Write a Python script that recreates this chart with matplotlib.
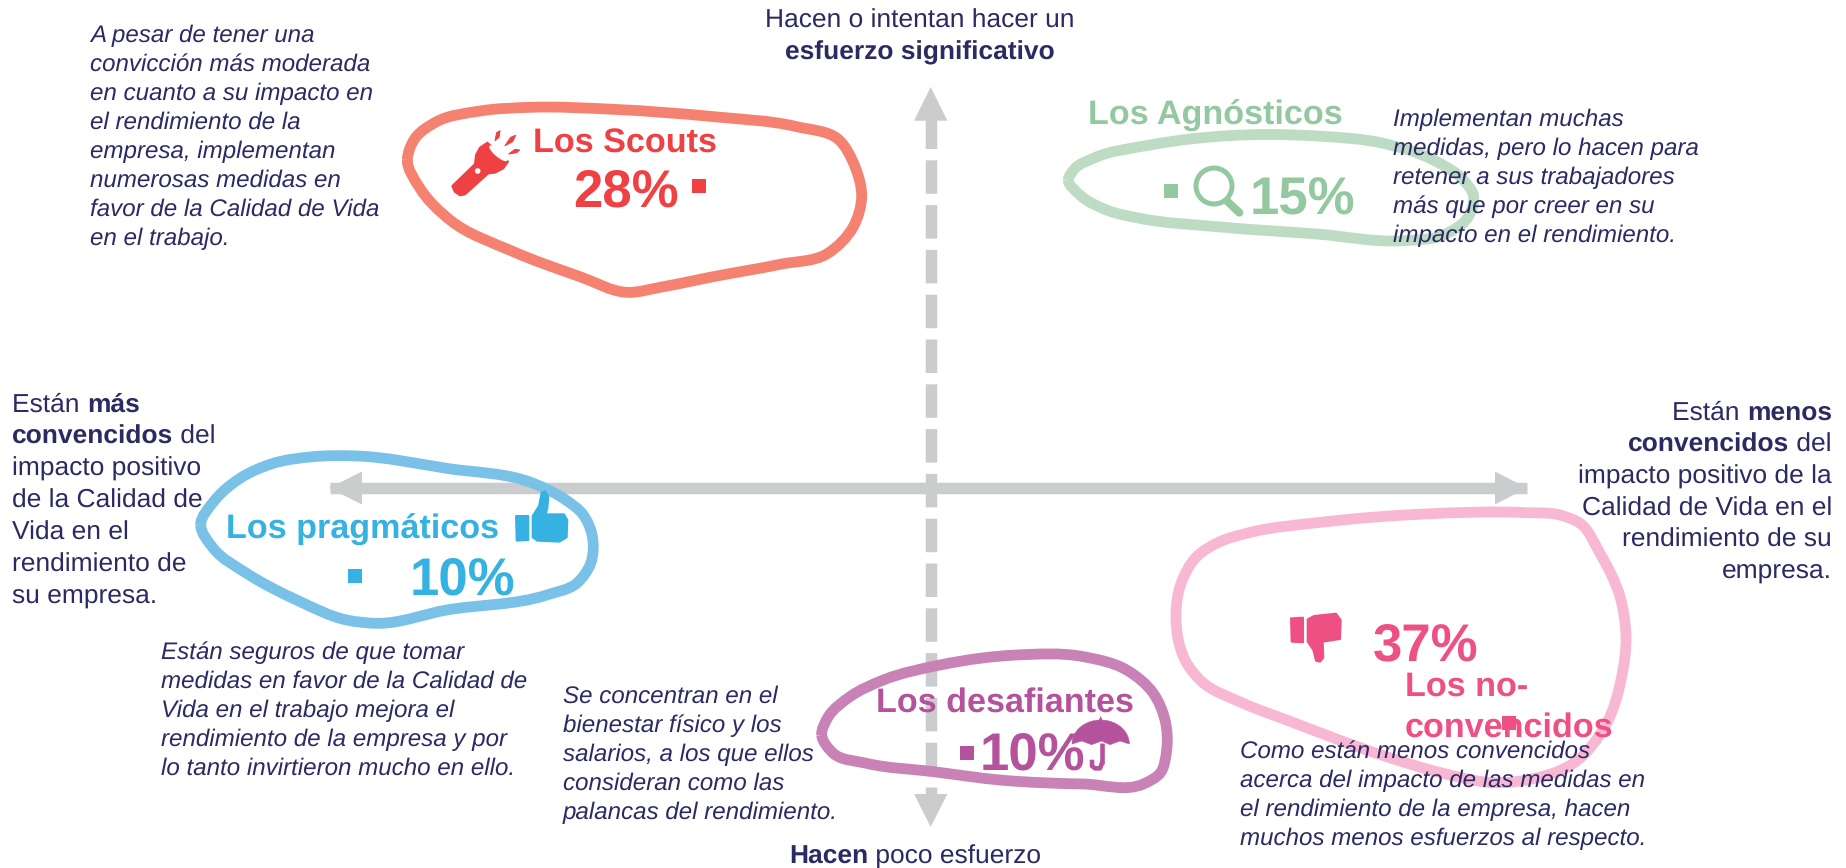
import matplotlib
matplotlib.use("Agg")
import matplotlib.pyplot as plt
from matplotlib.path import Path
from matplotlib.patches import PathPatch, Polygon, Rectangle, Circle, Ellipse
import numpy as np

W, H = 1846, 868
plt.rcParams['font.family'] = ['Liberation Sans', 'DejaVu Sans']
plt.rcParams['lines.scale_dashes'] = False
plt.rcParams['text.hinting'] = 'none'
plt.rcParams['text.hinting_factor'] = 8

NAVY = '#2B2A63'
GREY = '#CBCCCE'
PX = 72 / 100

# ---- data -----
groups = ['Los Scouts', 'Los Agnósticos', 'Los pragmáticos', 'Los desafiantes', 'Los no-\nconvencidos']
shares = [28, 15, 10, 10, 37]
text_colors = ['#EF4044', '#94C8A0', '#35B1E2', '#B5529C', '#EF5084']
ring_colors = ['#F58270', '#BDDCC3', '#7AC1E8', '#C882B5', '#F8B8D3']
title_pos = [(533, 152.7), (1088, 125), (226, 539), (876, 712), (1405, 696)]
share_pos = [(573, 206.7), (1250, 214), (410, 594), (980, 769), (1373, 660)]
square_pos = [(692, 179), (1164, 184), (348, 569), (960, 746), (1502, 716)]

ring_scouts = [(82,240),(105,175),(170,125),(300,93),(450,82),(700,88),(1000,110),(1250,140),(1375,178),(1425,260),(1445,350),(1420,440),(1340,522),(1200,553),(1000,590),(850,620),(740,637),(600,590),(400,515),(210,420),(120,325)]
ring_agnost = [(55,300),(75,265),(130,235),(300,195),(520,168),(800,168),(1000,190),(1150,240),(1240,300),(1270,345),(1255,410),(1180,465),(1060,482),(800,462),(500,440),(270,415),(170,390),(90,345)]
ring_pragma = [(62,225),(105,150),(180,85),(280,40),(400,20),(530,18),(800,55),(1060,100),(1150,145),(1210,195),(1235,250),(1232,340),(1190,400),(1100,435),(800,480),(590,520),(500,510),(350,450),(200,370),(100,295)]
ring_desaf = [(65,225),(85,170),(150,110),(250,60),(420,15),(650,-15),(850,-10),(980,30),(1060,100),(1095,180),(1100,270),(1080,340),(1030,372),(850,372),(600,360),(400,335),(200,310),(100,280)]
ring_nocon = [(48,380),(60,290),(110,200),(180,155),(260,130),(500,95),(795,72),(1100,68),(1200,75),(1260,100),(1320,190),(1380,320),(1398,440),(1385,560),(1340,700),(1240,820),(1100,870),(1000,878),(850,850),(680,800),(380,690),(250,640),(120,570),(75,510),(55,450)]
rings = [ring_scouts, ring_agnost, ring_pragma, ring_desaf, ring_nocon]
ring_origin = [(380,80),(1050,80),(180,450),(800,660),(1160,490)]

body_blocks = [
    (90, 42, ['A pesar de tener una','convicción más moderada','en cuanto a su impacto en','el rendimiento de la','empresa, implementan','numerosas medidas en','favor de la Calidad de Vida','en el trabajo.']),
    (1393, 126, ['Implementan muchas','medidas, pero lo hacen para','retener a sus trabajadores','más que por creer en su','impacto en el rendimiento.']),
    (161, 659, ['Están seguros de que tomar','medidas en favor de la Calidad de','Vida en el trabajo mejora el','rendimiento de la empresa y por','lo tanto invirtieron mucho en ello.']),
    (563, 703, ['Se concentran en el','bienestar físico y los','salarios, a los que ellos','consideran como las','palancas del rendimiento.']),
    (1240, 758, ['Como están menos convencidos','acerca del impacto de las medidas en','el rendimiento de la empresa, hacen','muchos menos esfuerzos al respecto.']),
]
left_lines = [[('Están ',0),('más',1)],[('convencidos',1),(' del',0)],[('impacto positivo',0)],[('de la Calidad de',0)],[('Vida en el',0)],[('rendimiento de',0)],[('su empresa.',0)]]
right_lines = [[('Están ',0),('menos',1)],[('convencidos',1),(' del',0)],[('impacto positivo de la',0)],[('Calidad de Vida en el',0)],[('rendimiento de su',0)],[('empresa.',0)]]
top_lines = [[('Hacen o intentan hacer un',0)],[('esfuerzo significativo',1)]]
bottom_lines = [[('Hacen',1),(' poco esfuerzo',0)]]

# ---- figure -----
fig = plt.figure(figsize=(W/100, H/100), dpi=100)
ax = fig.add_axes([0, 0, 1, 1])
ax.set_xlim(0, W); ax.set_ylim(H, 0); ax.axis('off')
fig.canvas.draw()
rend = fig.canvas.get_renderer()

def smooth(pts):
    p = np.asarray(pts, float)
    n = len(p)
    tang = []
    for i in range(n):
        a, b, c = p[i-1], p[i], p[(i+1) % n]
        d0, d1 = np.linalg.norm(b-a), np.linalg.norm(c-b)
        tang.append(((b-a)/d0*d1 + (c-b)/d1*d0)/(d0+d1))
    verts = [p[0]]; codes = [Path.MOVETO]
    for i in range(n):
        j = (i+1) % n
        d = np.linalg.norm(p[j]-p[i])
        verts += [p[i]+tang[i]*d/3, p[j]-tang[j]*d/3, p[j]]
        codes += [Path.CURVE4]*3
    return Path(verts, codes)

def conv(pts, origin):
    return [(origin[0]+x/3, origin[1]+y/3) for x, y in pts]

# arrows
ax.plot([330, 1527], [488, 488], color=GREY, lw=11.5*PX, solid_capstyle='butt', zorder=1)
for tip, base in ((329, 362), (1527, 1495)):
    ax.add_patch(Polygon([(tip,488),(base,471.5),(base,504.5)], color=GREY, lw=0, zorder=1))
ax.plot([930.7, 930.7], [115.2, 797], color=GREY, lw=11.5*PX, dashes=(33.5*PX, 11.3*PX), dash_capstyle='butt', zorder=1)
for tip, base in ((87, 120.7), (827, 794)):
    ax.add_patch(Polygon([(930.7,tip),(914,base),(947.4,base)], color=GREY, lw=0, zorder=1))

# rings
for pts, org, c in zip(rings, ring_origin, ring_colors):
    ax.add_patch(PathPatch(smooth(conv(pts, org)), fc='none', ec=c, lw=10.8*PX, zorder=2))

# squares, titles, shares
for g, s, tc, tp, sp, q in zip(groups, shares, text_colors, title_pos, share_pos, square_pos):
    lines = g.split('\n')
    for i, l in enumerate(lines):
        ax.text(tp[0], tp[1]+i*40.5, l, color=tc, fontsize=24.6, fontweight='bold', va='baseline', ha='left', zorder=4)
    ax.text(sp[0], sp[1], f'{s}%', color=tc, fontsize=38, fontweight='bold', va='baseline', ha='left', zorder=4)
    ax.add_patch(Rectangle(q, 13.5, 13.5, color=tc, lw=0, zorder=5))

# icons
red, green, blue, purple, pink = text_colors
def fill(pts, org, c, z=5, edge=2.0):
    ax.add_patch(Polygon(conv(pts, org), fc=c, ec=c, lw=edge*PX, joinstyle='round', zorder=z))

o = ring_origin[0]
fill([(217,318),(285,252),(288,225),(300,203),(322,188),(384,245),(370,265),(345,278),(325,280),(255,343),(240,346),(224,335)], o, red)
ax.add_patch(Ellipse((o[0]+355/3, o[1]+220/3), 23, 7, angle=40, fc='white', ec='none', zorder=6))
ax.add_patch(Circle((o[0]+293/3, o[1]+273/3), 2.8, fc='white', ec='none', zorder=6))
for ray in ([(345,182),(350,158),(360,152),(357,172)], [(375,197),(392,172),(407,166),(398,185)], [(386,222),(405,208),(419,210),(410,218)]):
    fill(ray, o, red, edge=1.0)

o = ring_origin[1]
ax.add_patch(Circle((o[0]+492/3, o[1]+318/3), 18, fc='none', ec=green, lw=5*PX, zorder=5))
ax.plot([o[0]+532/3, o[0]+568/3], [o[1]+364/3, o[1]+398/3], color=green, lw=8*PX, solid_capstyle='round', zorder=5)

o = ring_origin[2]
fill([(1008,198),(1045,198),(1045,270),(1010,272)], o, blue)
fill([(1058,198),(1077,168),(1085,128),(1095,124),(1105,140),(1102,175),(1097,193),(1152,193),(1162,210),(1160,262),(1138,275),(1072,272),(1058,262)], o, blue)

o = ring_origin[3]
theta = np.linspace(np.pi, 0, 30)
dome = [(902+86*np.cos(t), 252-72*np.sin(t)) for t in theta]
dome = dome[:15] + [(902,170)] + dome[15:] + [(960,243),(930,254),(905,243),(875,254),(845,243)]
fill(dome, o, purple, edge=0.5)
ax.plot([o[0]+905/3, o[0]+905/3], [o[1]+250/3, o[1]+312/3], color=purple, lw=4.6*PX, solid_capstyle='butt', zorder=5)
ax.plot([o[0]+905/3, o[0]+900/3, o[0]+885/3, o[0]+876/3, o[0]+876/3], [o[1]+312/3, o[1]+325/3, o[1]+325/3, o[1]+318/3, o[1]+306/3], color=purple, lw=4.6*PX, zorder=5)

o = ring_origin[4]
fill([(393,385),(429,383),(429,457),(395,455)], o, pink)
fill([(443,388),(462,378),(528,371),(542,390),(540,447),(488,455),(490,503),(480,515),(468,512),(460,480),(443,455)], o, pink)

# body text
for x, y, lines in body_blocks:
    for i, l in enumerate(lines):
        ax.text(x, y+i*29, l, color=NAVY, fontsize=17.4, fontstyle='italic', va='baseline', ha='left', zorder=6)

# axis labels
def rich(lines, x, y, dy, ha, size):
    for i, segs in enumerate(lines):
        ts = [ax.text(0, 0, t, fontsize=size, fontweight='bold' if b else 'normal', color=NAVY, va='baseline', zorder=6) for t, b in segs]
        adv = [rend.get_text_width_height_descent(t, t_o.get_fontproperties(), False)[0] for (t, b), t_o in zip(segs, ts)]
        total = sum(adv)
        cx = {'left': x, 'right': x-total, 'center': x-total/2}[ha]
        for t_o, a in zip(ts, adv):
            t_o.set_position((cx, y+i*dy))
            cx += a

rich(left_lines, 12, 412, 32, 'left', 19.0)
rich(right_lines, 1832, 420, 31.8, 'right', 19.0)
rich(top_lines, 920, 28, 31.5, 'center', 19.0)
rich(bottom_lines, 915, 864, 0, 'center', 19.0)

fig.savefig('out.png', dpi=100)
